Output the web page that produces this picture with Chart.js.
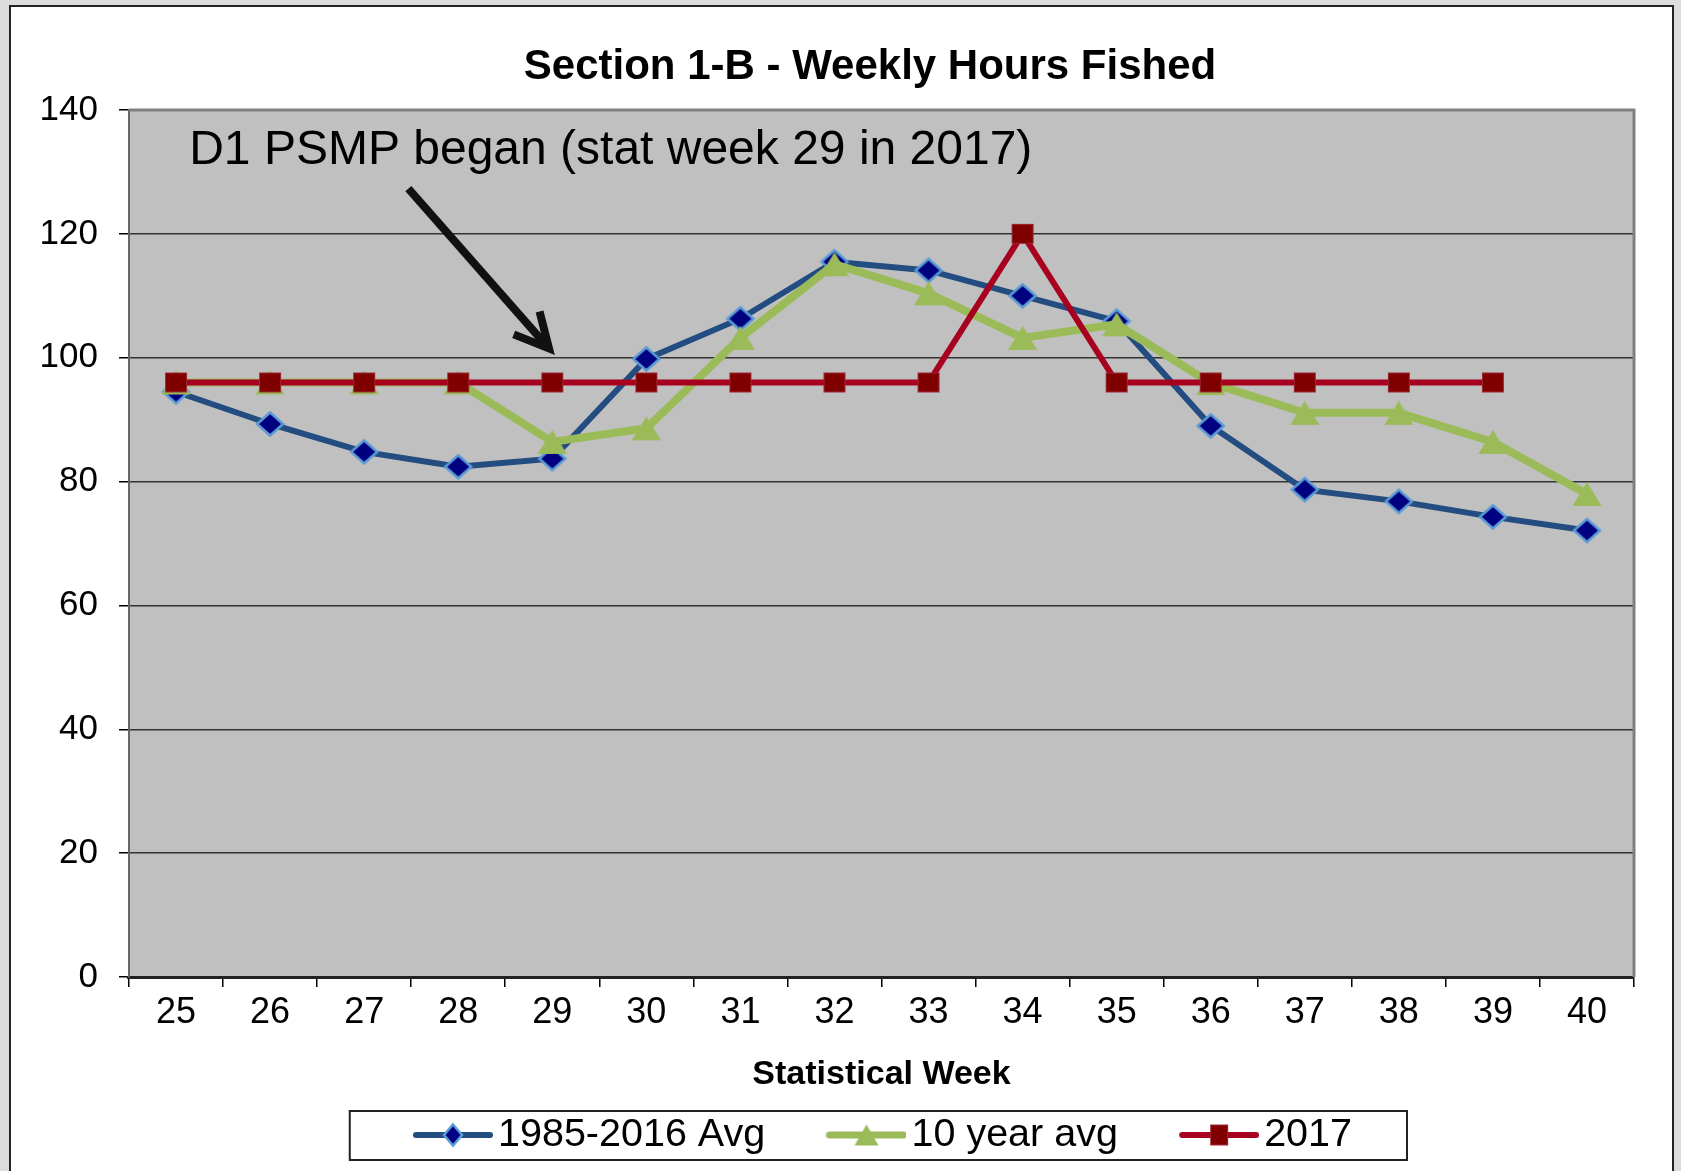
<!DOCTYPE html>
<html>
<head>
<meta charset="utf-8">
<script src="https://cdn.jsdelivr.net/npm/chart.js@4.4.0/dist/chart.umd.min.js"></script>
<style>
  html, body { margin: 0; padding: 0; background: #dcdcdc; }
  body { width: 1681px; height: 1171px; overflow: hidden; position: relative; }
  #panel { position: absolute; left: 9px; top: 5px; width: 1665px; height: 1200px; background: #fff; border: 2px solid #222; box-sizing: border-box; }
  #wrap { position: absolute; left: 0; top: 0; width: 1681px; height: 1171px; }
</style>
</head>
<body>
<div id="panel"></div>
<div id="wrap"><canvas id="chart" width="1681" height="1171"></canvas></div>
<script>
// values
const weeks = ['25', '26', '27', '28', '29', '30', '31', '32', '33', '34', '35', '36', '37', '38', '39', '40'];
const avgLongTerm = [94.5, 89.3, 84.8, 82.4, 83.7, 99.8, 106.3, 115.5, 114.1, 110.0, 105.9, 89.0, 78.7, 76.8, 74.3, 72.1];
const avgTenYear = [96, 96, 96, 96, 86.4, 88.6, 103.2, 115.1, 110.4, 103.2, 105.4, 95.9, 91.1, 91.1, 86.4, 78.0];
const season2017 = [96, 96, 96, 96, 96, 96, 96, 96, 96, 120, 96, 96, 96, 96, 96, null];
const seriesNames = ['1985-2016 Avg', '10 year avg', '2017'];
const yMin = 0, yMax = 140, yStep = 20;

const BLUE = '#234C80', GREEN = '#9BBB59', RED = '#A8001F';

Chart.defaults.font.family = '"Liberation Sans", Arial, sans-serif';
Chart.defaults.color = '#000';

// marker shapes
function canvasOf(w, h, draw) {
    const c = document.createElement('canvas');
    c.width = w; c.height = h;
    draw(c.getContext('2d'));
    return c;
}
function drawDiamond(ctx, cx, cy, rx, ry) {
    ctx.beginPath();
    ctx.moveTo(cx, cy - ry); ctx.lineTo(cx + rx, cy); ctx.lineTo(cx, cy + ry); ctx.lineTo(cx - rx, cy);
    ctx.closePath();
    ctx.fillStyle = '#000080'; ctx.fill();
    ctx.strokeStyle = '#5B9BD5'; ctx.lineWidth = 2.5; ctx.stroke();
}
function drawSquare(ctx, cx, cy, hw, hh) {
    ctx.fillStyle = '#800000';
    ctx.fillRect(cx - hw, cy - hh, hw * 2, hh * 2);
    ctx.strokeStyle = '#9a2a36'; ctx.lineWidth = 1;
    ctx.strokeRect(cx - hw, cy - hh, hw * 2, hh * 2);
}
function drawTriangle(ctx, cx, cy, hw, hh) {
    ctx.beginPath();
    ctx.moveTo(cx, cy - hh); ctx.lineTo(cx + hw, cy + hh); ctx.lineTo(cx - hw, cy + hh);
    ctx.closePath();
    ctx.fillStyle = GREEN; ctx.fill();
}

const diamondMark = canvasOf(32, 28, ctx => drawDiamond(ctx, 16, 14, 13, 11.5));
const triangleMark = canvasOf(32, 26, ctx => drawTriangle(ctx, 16, 13, 14.5, 12));
const squareMark = canvasOf(24, 22, ctx => drawSquare(ctx, 12, 11, 10.5, 9.5));

// legend samples: line + marker, with empty space on the left
function legendSample(color, width, marker) {
    return canvasOf(146, 28, ctx => {
        ctx.strokeStyle = color; ctx.lineWidth = width; ctx.lineCap = 'round';
        ctx.beginPath(); ctx.moveTo(69, 14); ctx.lineTo(143, 14); ctx.stroke();
        marker(ctx);
    });
}
const legendSamples = [
    legendSample(BLUE, 6, ctx => drawDiamond(ctx, 106, 14, 9, 10.5)),
    legendSample(GREEN, 7, ctx => drawTriangle(ctx, 106, 14, 12, 10.5)),
    legendSample(RED, 6, ctx => drawSquare(ctx, 106, 14, 8.5, 10))
];

const plotDecor = {
    id: 'plotDecor',
    afterLayout(chart) {
        // centre title over the plot like the original, place legend under it
        const t = chart.titleBlock;
        const dx = 870 - (t.left + t.right) / 2;
        t.left += dx; t.right += dx;
        const lg = chart.legend;
        const w = lg.right - lg.left;
        lg.left = 351.75; lg.right = lg.left + w;
    },
    beforeDraw(chart) {
        const a = chart.chartArea, ctx = chart.ctx;
        ctx.save();
        ctx.fillStyle = '#C0C0C0';
        ctx.fillRect(a.left, a.top, a.right - a.left, a.bottom - a.top);
        ctx.restore();
    },
    beforeDatasetsDraw(chart) {
        const a = chart.chartArea, ctx = chart.ctx;
        const xs = chart.scales.x, ys = chart.scales.y;
        ctx.save();
        ctx.strokeStyle = '#808080'; ctx.lineWidth = 3;
        ctx.beginPath();
        ctx.moveTo(a.left, a.top); ctx.lineTo(a.right, a.top); ctx.lineTo(a.right, a.bottom);
        ctx.stroke();

        // annotation
        ctx.fillStyle = '#000';
        ctx.font = '48px "Liberation Sans", Arial, sans-serif';
        ctx.textBaseline = 'middle';
        ctx.fillText('D1 PSMP began (stat week 29 in 2017)', xs.getPixelForValue(0.14), ys.getPixelForValue(133.4));

        const x0 = xs.getPixelForValue(2.47), y0 = ys.getPixelForValue(127.3);
        const x1 = xs.getPixelForValue(3.965), y1 = ys.getPixelForValue(101.5);
        ctx.strokeStyle = '#111'; ctx.lineWidth = 8;
        ctx.beginPath(); ctx.moveTo(x0, y0); ctx.lineTo(x1, y1); ctx.stroke();
        const back = Math.atan2(y0 - y1, x0 - x1);
        const len = 38, spread = 27 * Math.PI / 180;
        ctx.lineJoin = 'miter';
        ctx.beginPath();
        ctx.moveTo(x1 + len * Math.cos(back - spread), y1 + len * Math.sin(back - spread));
        ctx.lineTo(x1, y1);
        ctx.lineTo(x1 + len * Math.cos(back + spread), y1 + len * Math.sin(back + spread));
        ctx.stroke();
        ctx.restore();
    },
    afterDraw(chart) {
        // box around legend
        const hb = chart.legend.legendHitBoxes;
        if (!hb || !hb.length) return;
        const last = hb[hb.length - 1];
        const cy = hb[0].top + hb[0].height / 2;
        const ctx = chart.ctx;
        ctx.save();
        ctx.strokeStyle = '#222'; ctx.lineWidth = 2;
        const left = chart.legend.left - 2, right = last.left + last.width + 55;
        ctx.strokeRect(left, cy - 24, right - left, 49);
        ctx.restore();
    }
};

new Chart(document.getElementById('chart'), {
    type: 'line',
    data: {
        labels: weeks,
        datasets: [
            { label: seriesNames[0], data: avgLongTerm, borderColor: BLUE, borderWidth: 6, pointStyle: diamondMark, pointRadius: 8, tension: 0, order: 3 },
            { label: seriesNames[1], data: avgTenYear, borderColor: GREEN, borderWidth: 8, pointStyle: triangleMark, pointRadius: 8, tension: 0, order: 2 },
            { label: seriesNames[2], data: season2017, borderColor: RED, borderWidth: 6, pointStyle: squareMark, pointRadius: 8, tension: 0, order: 1 }
        ]
    },
    options: {
        responsive: false,
        animation: false,
        devicePixelRatio: 1,
        layout: { padding: { left: 18.6, right: 47, top: 0, bottom: 6.25 } },
        scales: {
            x: {
                offset: true,
                grid: { drawOnChartArea: false, drawTicks: true, tickLength: 10, color: '#000', lineWidth: 1.5, offset: true },
                border: { color: '#222', width: 3 },
                ticks: { font: { size: 36 }, color: '#000', padding: 4.4, maxRotation: 0 },
                title: { display: true, text: 'Statistical Week', font: { size: 34, weight: 'bold' }, color: '#000', padding: { top: 15.6, bottom: 9.85 } }
            },
            y: {
                min: yMin, max: yMax,
                grid: { color: '#333', lineWidth: 1.5, tickLength: 10, tickColor: '#000', tickWidth: 1.5 },
                border: { color: '#666', width: 2 },
                ticks: { stepSize: yStep, font: { size: 35 }, color: '#000', padding: 21 }
            }
        },
        plugins: {
            title: {
                display: true,
                text: 'Section 1-B - Weekly Hours Fished',
                font: { size: 42, weight: 'bold' },
                color: '#000',
                padding: { top: 42.3, bottom: 17.3 }
            },
            legend: {
                position: 'bottom',
                align: 'start',
                labels: {
                    usePointStyle: true,
                    pointStyleWidth: 116.5,
                    padding: 10,
                    font: { size: 39.5 },
                    color: '#000',
                    generateLabels: chart => chart.data.datasets.map((ds, i) => ({
                        text: ds.label,
                        pointStyle: legendSamples[i],
                        datasetIndex: i,
                        hidden: false,
                        fontColor: '#000',
                        lineWidth: 0,
                        strokeStyle: 'transparent',
                        fillStyle: 'transparent'
                    }))
                }
            },
            tooltip: { enabled: false }
        }
    },
    plugins: [plotDecor]
});
</script>
</body>
</html>
